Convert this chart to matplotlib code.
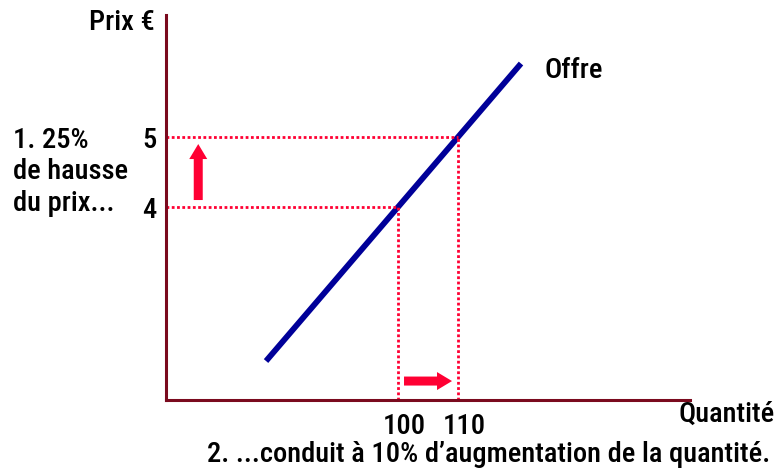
import matplotlib.pyplot as plt
from matplotlib.transforms import ScaledTranslation

plt.rcParams['font.family'] = ['Roboto Condensed', 'DejaVu Sans']
plt.rcParams['font.weight'] = 'medium'

# données
prix = [4, 5]
quantites = [100, 110]
offre_q = [78, 120.5]
offre_p = [1.8, 6.05]

rouge = '#ff0033'
bordeaux = '#7a0a1e'
bleu = '#000099'
taille = 20.5

fig = plt.figure(figsize=(7.78, 4.71), dpi=100)
ax = fig.add_axes([0.2134, 0.1507, 0.6735, 0.8174])
ax.set_xlim(61.33, 148.67)
ax.set_ylim(1.243, 6.743)

for s in ['top', 'right']:
    ax.spines[s].set_visible(False)
for s in ['left', 'bottom']:
    ax.spines[s].set_color(bordeaux)
    ax.spines[s].set_linewidth(2.2)

# courbe d'offre
ax.plot(offre_q, offre_p, color=bleu, lw=4.2, solid_capstyle='butt')

# pointillés
x0, y0 = ax.get_xlim()[0], ax.get_ylim()[0]
for q, p in zip(quantites, prix):
    ax.plot([x0, q], [p, p], color=rouge, lw=2, ls=(0, (1, 0.9)))
    ax.plot([q, q], [y0, p], color=rouge, lw=2, ls=(0, (1, 0.9)))

# flèches (tailles en pixels)
style = 'simple,head_length=15,head_width=18,tail_width=9'
for debut, fin in [((66.7, 4.1), (66.7, 4.9)), ((101, 1.514), (109, 1.514))]:
    ax.annotate('', xy=fin, xytext=debut,
                arrowprops=dict(arrowstyle=style, color=rouge, lw=0,
                                shrinkA=0, shrinkB=0, mutation_scale=0.72))

ax.set_yticks(prix)
ax.set_yticklabels([str(p) for p in prix])
ax.set_xticks(quantites)
ax.set_xticklabels([str(q) for q in quantites])
ax.tick_params(length=0, labelsize=taille)
ax.tick_params(axis='y', pad=7)
ax.tick_params(axis='x', pad=9)
decale = ScaledTranslation(6 / 100, 0, fig.dpi_scale_trans)
for lab in ax.get_xticklabels():
    lab.set_transform(lab.get_transform() + decale)

fig.text(155 / 778, 1 - 22 / 471, 'Prix €', ha='right', va='center', fontsize=taille)
fig.text(545 / 778, 1 - 71 / 471, 'Offre', ha='left', va='center', fontsize=taille)
fig.text(13 / 778, 1 - 172 / 471, '1. 25%\nde hausse\ndu prix...', ha='left', va='center',
         fontsize=taille, linespacing=1.2)
fig.text(775 / 778, 1 - 414 / 471, 'Quantité', ha='right', va='center', fontsize=taille)
fig.text(770 / 778, 1 - 455 / 471, '2. ...conduit à 10% d’augmentation de la quantité.',
         ha='right', va='center', fontsize=taille)

fig.savefig('out.png', dpi=100)
